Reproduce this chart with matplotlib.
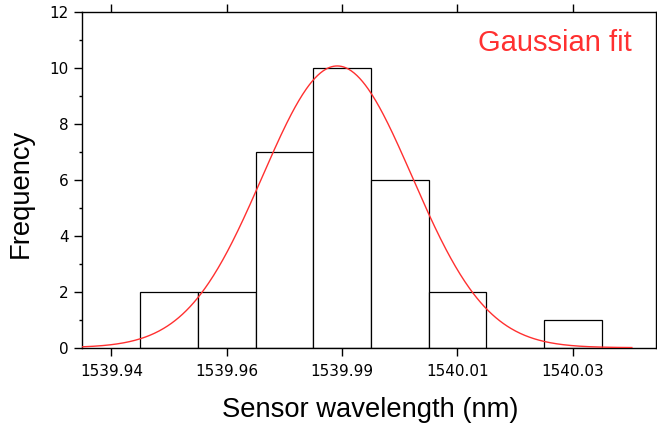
import numpy as np
import matplotlib
matplotlib.use("Agg")
import matplotlib.pyplot as plt
from matplotlib.ticker import MultipleLocator

# ---- data ----
bin_edges = [1539.9444, 1539.9562, 1539.9680, 1539.9798, 1539.9916,
             1540.0034, 1540.0152, 1540.0270, 1540.0388]
counts = [2, 2, 7, 10, 6, 2, 0, 1]
tick_values = [1539.9385, 1539.9621, 1539.9857, 1540.0093, 1540.0329]
tick_labels = ["1539.94", "1539.96", "1539.99", "1540.01", "1540.03"]
fit_amp = 10.08
fit_mu = 1539.9847
fit_sigma = 0.01534
fit_range = (1539.930, 1540.0450)
x_limits = (1539.93253, 1540.04989)

fig = plt.figure(figsize=(6.57, 4.24), dpi=100)
ax = fig.add_axes([0.1253, 0.18, 0.8728, 0.791])

widths = np.diff(bin_edges)
ax.bar(bin_edges[:-1], counts, width=widths, align="edge",
       facecolor="white", edgecolor="black", linewidth=0.9, zorder=2)

xs = np.linspace(fit_range[0], fit_range[1], 600)
ys = fit_amp * np.exp(-(xs - fit_mu) ** 2 / (2 * fit_sigma ** 2))
ax.plot(xs, ys, color="#ff3030", linewidth=1.0, zorder=3)

ax.set_xlim(*x_limits)
ax.set_ylim(0, 12)
ax.set_xticks(tick_values)
ax.set_xticklabels(tick_labels)
ax.yaxis.set_major_locator(MultipleLocator(2))
ax.yaxis.set_minor_locator(MultipleLocator(1))

ax.tick_params(axis="x", which="major", direction="out", length=5.5, width=1,
               top=True, bottom=True, labelsize=11, pad=6, colors="black")
ax.tick_params(axis="y", which="major", direction="out", length=5.5, width=1,
               left=True, right=False, labelsize=11, pad=4.5)
ax.tick_params(axis="y", which="minor", direction="out", length=2.5, width=1,
               left=True, right=False)
for s in ax.spines.values():
    s.set_linewidth(1.0)
    s.set_color("black")

lab_font = ["Liberation Sans", "DejaVu Sans"]
ax.set_xlabel("Sensor wavelength (nm)", fontsize=19.7, family=lab_font)
ax.set_ylabel("Frequency", fontsize=19.7, family=lab_font)
ax.xaxis.set_label_coords(0.502, -0.147)
ax.xaxis.label.set_va("top")
ax.yaxis.set_label_coords(-0.107, 0.461)
ax.yaxis.label.set_va("center")
ax.yaxis.label.set_ha("center")

ax.text(0.69, 0.8846, "Gaussian fit", transform=ax.transAxes, fontsize=21,
        color="#ff3030", family=lab_font, ha="left", va="baseline")

fig.savefig("out.png", dpi=100)
